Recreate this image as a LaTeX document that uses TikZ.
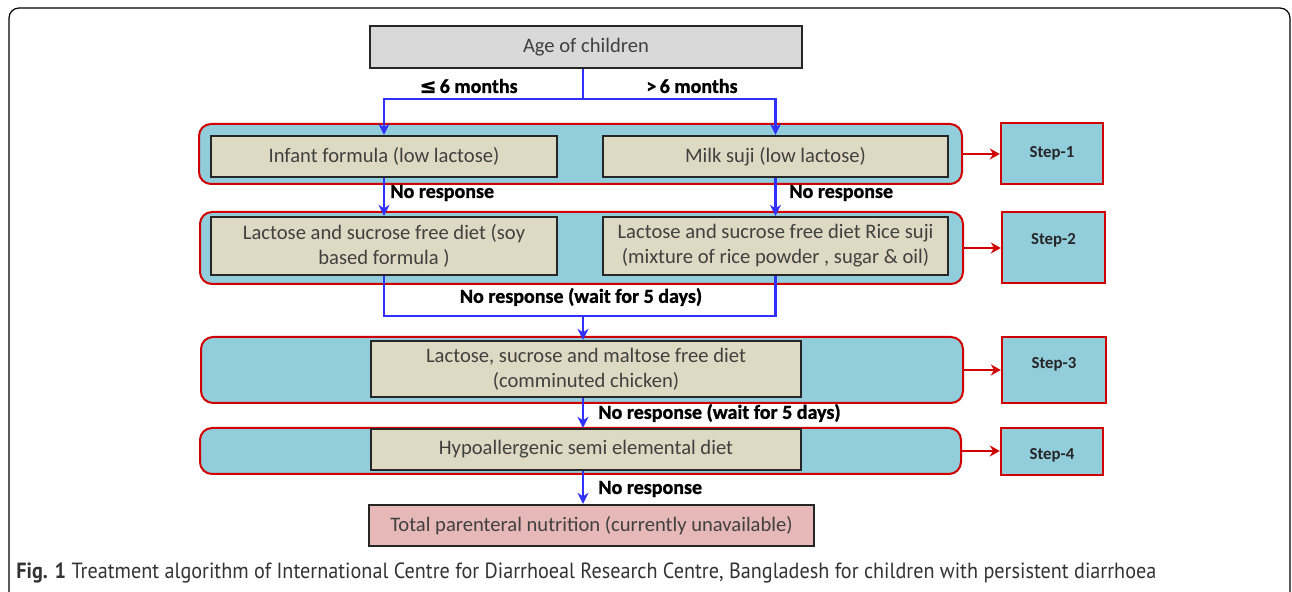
\documentclass[tikz,border=0pt]{standalone}
\usepackage{fontspec}
\usepackage{graphicx}
\setmainfont{Carlito}
\newfontfamily\lblfont[BoldFeatures={FakeBold=1.2}]{Carlito}
\newfontfamily\capfont{PT Sans}
\newfontfamily\symfont[BoldFeatures={FakeBold=1.2}]{DejaVu Sans}
\usetikzlibrary{arrows.meta,calc}
\definecolor{cont}{HTML}{92CDDC}
\definecolor{diet}{HTML}{DDD9C3}
\definecolor{agefill}{HTML}{D9D9D9}
\definecolor{tpnfill}{HTML}{E6B9B8}
\definecolor{redl}{HTML}{D00000}
\definecolor{bluel}{HTML}{3030FF}
\definecolor{txt}{HTML}{404040}
\begin{document}
\begin{tikzpicture}[x=0.5pt,y=-0.5pt,
  container/.style={draw=redl, line width=1pt, fill=cont, rounded corners=6pt, inner sep=0pt},
  dietbox/.style={draw=black!85, line width=1.2pt, fill=diet, inner sep=0pt,
    font=\fontsize{10.3}{12.6}\selectfont, text=txt, align=center},
  agebox/.style={dietbox, fill=agefill},
  tpnbox/.style={dietbox, fill=tpnfill},
  stepbox/.style={draw=redl, line width=1.2pt, fill=cont, inner sep=0pt},
  steptext/.style={font=\fontsize{8.4}{10}\selectfont\bfseries, text=black!85, inner sep=0pt},
  lbl/.style={font=\lblfont\fontsize{10}{12}\selectfont\bfseries, inner sep=0pt},
  flow/.style={draw=bluel, line width=1.2pt},
  flowarrow/.style={flow, -{Stealth[length=5.5pt,width=5.5pt]}},
  redarrow/.style={draw=redl, line width=1.4pt, -{Stealth[length=5pt,width=5.5pt]}}
]
\useasboundingbox (0,0) rectangle (1292,592);
% outer frame
\draw[line width=0.6pt, rounded corners=5pt] (9,600) -- (9,8) -- (1290,8) -- (1290,600);

% containers
\node[container, minimum width=381.5pt, minimum height=30pt] (c1) at (580.5,154) {};
\node[container, minimum width=381.5pt, minimum height=36pt] (c2) at (581.5,248) {};
\node[container, minimum width=381pt, minimum height=33pt] (c3) at (582,370) {};
\node[container, minimum width=380.5pt, minimum height=23pt] (c4) at (580.5,451) {};

% step boxes
\node[stepbox, minimum width=51pt, minimum height=30.5pt,
  label={[steptext]center:Step-1}] (s1) at (1052,153.5) {};
\node[stepbox, minimum width=51.5pt, minimum height=35.5pt,
  label={[steptext,yshift=3.5pt]center:Step-2}] (s2) at (1053.5,247.5) {};
\node[stepbox, minimum width=52pt, minimum height=33pt,
  label={[steptext,yshift=3pt]center:Step-3}] (s3) at (1054,370) {};
\node[stepbox, minimum width=51pt, minimum height=23.5pt,
  label={[steptext,yshift=-2pt]center:Step-4}] (s4) at (1052,451.5) {};

% content boxes
\node[agebox, minimum width=216pt, minimum height=21pt] (age) at (586,47) {Age of children};
\node[dietbox, minimum width=173pt, minimum height=20.5pt] (inf) at (384,156.5) {Infant formula (low lactose)};
\node[dietbox, minimum width=172.5pt, minimum height=20.5pt] (milk) at (775.5,156.5) {Milk suji (low lactose)};
\node[dietbox, minimum width=173pt, minimum height=29pt] (soy) at (384,246) {Lactose and sucrose free diet (soy\\based formula )};
\node[dietbox, minimum width=172.5pt, minimum height=29pt] (rice) at (775.5,246) {Lactose and sucrose free diet Rice suji\\(mixture of rice powder , sugar \& oil)};
\node[dietbox, minimum width=215pt, minimum height=28pt] (lsm) at (586,369) {Lactose, sucrose and maltose free diet\\(comminuted chicken)};
\node[dietbox, minimum width=215pt, minimum height=20.5pt] (hypo) at (586,449.5) {Hypoallergenic semi elemental diet};
\node[tpnbox, minimum width=222.5pt, minimum height=20.5pt] (tpn) at (591.5,525.5) {Total parenteral nutrition (currently unavailable)};

% red connectors
\draw[redarrow] (c1.east) -- (c1.east -| s1.west);
\draw[redarrow] (c2.east) -- (c2.east -| s2.west);
\draw[redarrow] (c3.east) -- (c3.east -| s3.west);
\draw[redarrow] (c4.east) -- (c4.east -| s4.west);

% blue flow
\coordinate (split) at (583,99);
\coordinate (join) at (583,316);
\draw[flow] (age.south -| split) -- (split);
\draw[flowarrow] (split) -| (inf.north);
\draw[flowarrow] (split) -| (milk.north);
\draw[flowarrow] (inf.south) -- (soy.north);
\draw[flowarrow] (milk.south) -- (rice.north);
\draw[flow] (soy.south) |- (join) -| (rice.south);
\draw[flowarrow] (join) -- (join |- lsm.north);
\draw[flowarrow] (lsm.south -| join) -- (hypo.north -| join);
\draw[flowarrow] (hypo.south -| join) -- (tpn.north -| join);

% labels
\node[lbl, anchor=east] (l6a) at (518,86) {{\symfont\bfseries ≤}\,6 months};
\node[lbl] (l6b) at (692,86) {>\,6 months};
\node[lbl, anchor=west] (nr1) at (390,193) {No response};
\node[lbl, anchor=west] (nr2) at (789,193) {No response};
\node[lbl] (nr3) at (581,297) {No response (wait for 5 days)};
\node[lbl, anchor=west] (nr4) at (598,413) {No response (wait for 5 days)};
\node[lbl, anchor=west] (nr5) at (598,489) {No response};

% caption
\node[anchor=west, inner sep=0pt, text=black!80] (cap) at (16,573)
  {\resizebox{570pt}{\height}{\capfont\fontsize{11}{13}\selectfont\textbf{Fig. 1} Treatment algorithm of International Centre for Diarrhoeal Research Centre, Bangladesh for children with persistent diarrhoea}};
\end{tikzpicture}
\end{document}
